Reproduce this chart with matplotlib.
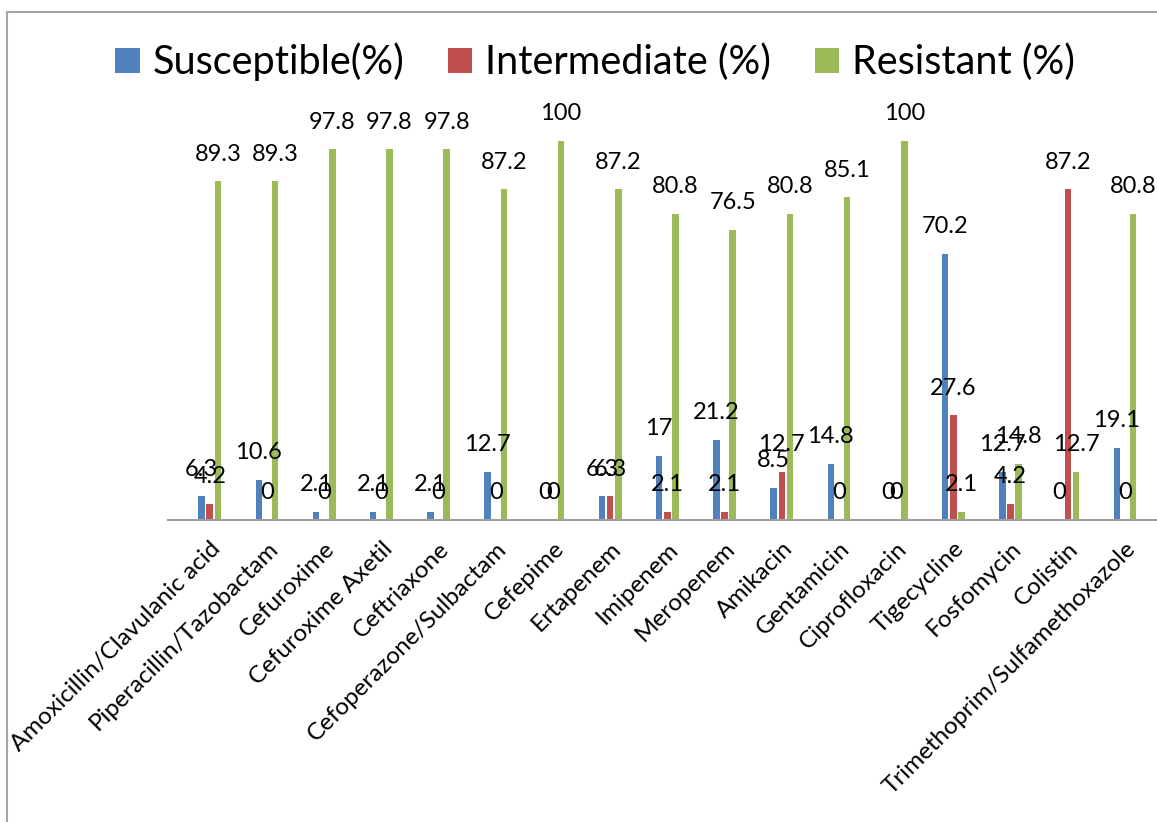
import numpy as np
import matplotlib
matplotlib.use("Agg")
import matplotlib.pyplot as plt
from matplotlib.lines import Line2D

plt.rcParams['font.family'] = ['Lato', 'DejaVu Sans']

drugs = ["Amoxicillin/Clavulanic acid", "Piperacillin/Tazobactam", "Cefuroxime",
         "Cefuroxime Axetil", "Ceftriaxone", "Cefoperazone/Sulbactam", "Cefepime",
         "Ertapenem", "Imipenem", "Meropenem", "Amikacin", "Gentamicin",
         "Ciprofloxacin", "Tigecycline", "Fosfomycin", "Colistin",
         "Trimethoprim/Sulfamethoxazole"]
susceptible = [6.3, 10.6, 2.1, 2.1, 2.1, 12.7, 0, 6.3, 17, 21.2, 8.5, 14.8, 0, 70.2, 12.7, 0, 19.1]
intermediate = [4.2, 0, 0, 0, 0, 0, 0, 6.3, 2.1, 2.1, 12.7, 0, 0, 27.6, 4.2, 87.2, 0]
resistant = [89.3, 89.3, 97.8, 97.8, 97.8, 87.2, 100, 87.2, 80.8, 76.5, 80.8, 85.1, 100, 2.1, 14.8, 12.7, 80.8]

series = [("Susceptible(%)", susceptible, "#4F81BD"),
          ("Intermediate (%)", intermediate, "#C0504D"),
          ("Resistant (%)", resistant, "#9BBB59")]

W, H = 1157, 822
fig = plt.figure(figsize=(W / 100, H / 100), dpi=100)
ax = fig.add_axes([168 / W, 1 - 520 / H, 1 - 168 / W, 420 / H])

x = np.arange(len(drugs))
step = 0.143
width = 0.114
handles = []
for k, (name, vals, col) in enumerate(series):
    xs = x + (k - 1) * step
    b = ax.bar(xs, vals, width, color=col, label=name)
    handles.append(b)
    for xi, v in zip(xs, vals):
        ax.annotate("%g" % v, (xi, v), xytext=(0, 19.5), textcoords="offset points",
                    ha="center", va="center", fontsize=17, annotation_clip=False)

ax.set_xlim(-0.73, 16.56)
ax.set_ylim(0, 110.8)
for s in ["top", "right", "left"]:
    ax.spines[s].set_visible(False)
ax.spines["bottom"].set_color("#A0A0A0")
ax.spines["bottom"].set_linewidth(1.5)
ax.set_yticks([])
ax.set_xticks(x)
ax.set_xticklabels(drugs, rotation=45, ha="right", va="top",
                   rotation_mode="anchor", fontsize=17.5)
ax.tick_params(axis="x", length=0, pad=13)

fig.legend(handles=handles, loc="center", bbox_to_anchor=(595 / W, 1 - 62 / H),
           ncol=3, frameon=False, fontsize=28.5, handlelength=0.62, handleheight=0.62,
           handletextpad=0.32, columnspacing=1.1)

# chart frame (only left and top edges fall inside the picture)
fig.add_artist(Line2D([7 / W, 7 / W], [0, 1 - 12 / H], color="#A6A6A6", lw=1.5))
fig.add_artist(Line2D([7 / W, 1], [1 - 12 / H, 1 - 12 / H], color="#A6A6A6", lw=1.5))

fig.savefig("out.png", dpi=100)
